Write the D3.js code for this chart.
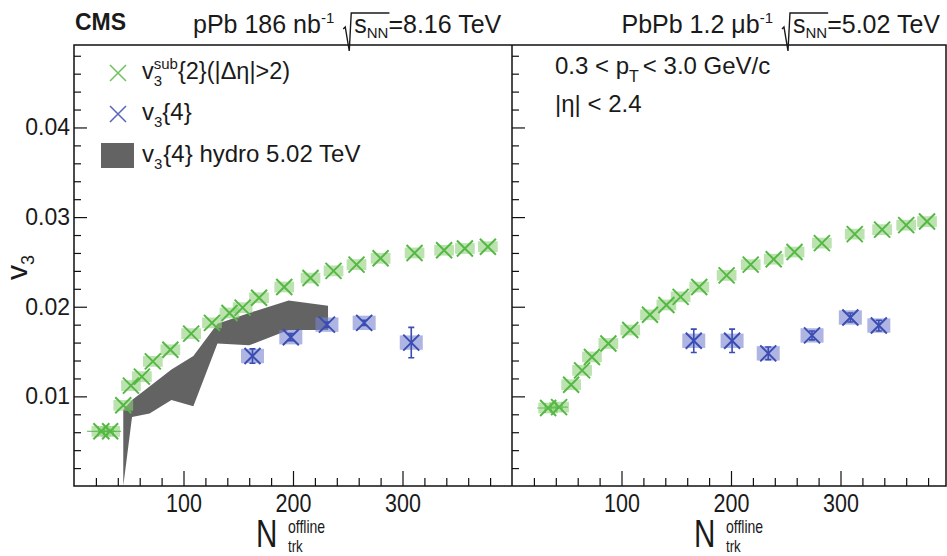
<!DOCTYPE html>
<html lang="en">
<head>
<meta charset="UTF-8">
<title>v3 vs Ntrk</title>
<script src="https://cdn.jsdelivr.net/npm/d3@7"></script>
<style>
    body { margin: 0; background: #fff; }
    text { font-family: "Liberation Sans", Arial, sans-serif; fill: #1a1a1a; }
    .tick line { stroke: #111; stroke-width: 1.2; }
    .tick text { fill: #1a1a1a; }
</style>
</head>
<body>
<svg id="chart" width="947" height="556"></svg>
<script>
    // pPb 8.16 TeV, v3sub{2}
    var pPbN2 = [25, 33, 45, 52, 62, 72, 88, 107, 126, 142, 154, 169, 192, 216, 237, 258, 280, 311, 338, 357, 378];
    var pPbV2 = [0.0061, 0.0061, 0.0090, 0.0112, 0.0122, 0.0139, 0.0152, 0.0170, 0.0182, 0.0193, 0.0199, 0.0210,
                 0.0222, 0.0232, 0.0240, 0.0247, 0.0254, 0.0260, 0.0263, 0.0265, 0.0267];
    var pPbX2 = [13, 10]; // horizontal bars of the first bins
    // pPb v3{4}
    var pPbN4 = [163, 198, 231, 265, 308];
    var pPbV4 = [0.0145, 0.0166, 0.0180, 0.0182, 0.0160];
    var pPbE4 = [0.0008, 0.0004, 0.0003, 0.0003, 0.0017];
    // hydro band (v3{4} hydro 5.02 TeV)
    var hydroN = [45, 53, 69, 89, 109, 131, 160, 196, 232];
    var hydroLo = [0.0, 0.0077, 0.0081, 0.0096, 0.0089, 0.0159, 0.0157, 0.0174, 0.0174];
    var hydroHi = [0.0085, 0.0096, 0.0111, 0.0130, 0.0145, 0.0181, 0.0193, 0.0207, 0.0201];

    // PbPb 5.02 TeV, v3sub{2}
    var pbpbN2 = [33, 43, 54, 64, 73, 88, 108, 126, 141, 154, 171, 196, 218, 239, 258, 283, 313, 338, 360, 379];
    var pbpbV2 = [0.0087, 0.0088, 0.0113, 0.0129, 0.0144, 0.0159, 0.0174, 0.0191, 0.0202, 0.0211, 0.0222,
                  0.0235, 0.0247, 0.0253, 0.0261, 0.0271, 0.0281, 0.0286, 0.0291, 0.0295];
    var pbpbX2 = [10, 8];
    // PbPb v3{4}
    var pbpbN4 = [166, 201, 234, 274, 309, 335];
    var pbpbV4 = [0.0162, 0.0162, 0.0148, 0.0168, 0.0188, 0.0179];
    var pbpbE4 = [0.0013, 0.0013, 0.0007, 0.0005, 0.0005, 0.0006];

    var yTicks = [0.01, 0.02, 0.03, 0.04];
    var xTicks = [100, 200, 300];

    var green = '#55b845', greenBox = '#8fd07a';
    var blue = '#3a4db3', blueBox = '#7a84cf';

    var svg = d3.select('#chart');
    var padL = 74, padMid = 512, padR = 946, padT = 45, padB = 486;

    var xL = d3.scaleLinear().domain([0, 400]).range([padL, padMid]);
    var xR = d3.scaleLinear().domain([0, 400]).range([padMid, padMid + 438]);
    var y = d3.scaleLinear().domain([0, 0.0492]).range([padB, padT]);

    svg.append('clipPath').attr('id', 'clipL').append('rect')
        .attr('x', padL).attr('y', padT).attr('width', padMid - padL).attr('height', padB - padT);
    svg.append('clipPath').attr('id', 'clipR').append('rect')
        .attr('x', padMid).attr('y', padT).attr('width', padR - padMid).attr('height', padB - padT);

    //axes
    function drawAxes(x, x0, showLabels) {
        var minorX = d3.range(20, 400, 20).filter(d => d % 100 != 0 && x(d) < padR);
        var minorY = d3.range(1, 25).map(i => i * 0.002).filter((d, i) => (i + 1) % 5 != 0);
        var majorX = d3.range(100, 400, 100);
        var majorY = d3.range(1, 5).map(i => i * 0.01);

        var gx = svg.append('g').attr('transform', 'translate(0,' + padB + ')');
        gx.call(d3.axisBottom(x).tickValues(minorX).tickSize(-8).tickFormat(''));
        var gx2 = svg.append('g').attr('transform', 'translate(0,' + padB + ')');
        gx2.call(d3.axisBottom(x).tickValues(majorX).tickSize(-15)
            .tickFormat(d => xTicks.indexOf(d) >= 0 ? d : ''));
        gx2.selectAll('.tick text').attr('y', 8).attr('dy', '0.71em')
            .style('font-size', '25px').attr('transform', 'scale(0.86,1)');

        var gy = svg.append('g').attr('transform', 'translate(' + x0 + ',0)');
        gy.call(d3.axisLeft(y).tickValues(minorY).tickSize(-7).tickFormat(''));
        var gy2 = svg.append('g').attr('transform', 'translate(' + x0 + ',0)');
        gy2.call(d3.axisLeft(y).tickValues(majorY).tickSize(-13)
            .tickFormat(d => showLabels && yTicks.some(t => Math.abs(t - d) < 1e-9) ? d3.format('.2f')(d) : ''));
        gy2.selectAll('.tick text').attr('x', -4).style('font-size', '23px');
        svg.selectAll('.domain').remove();
    }
    drawAxes(xL, padL, true);
    drawAxes(xR, padMid, false);

    // hydro band
    var band = hydroN.map((n, i) => ({ n: n, lo: hydroLo[i], hi: hydroHi[i] }));
    svg.append('path')
        .attr('clip-path', 'url(#clipL)')
        .attr('fill', '#636363')
        .attr('d', d3.area().x(d => xL(d.n)).y0(d => y(d.lo)).y1(d => y(d.hi))(band));

    function cross(g, s, color, w) {
        g.append('path')
            .attr('d', 'M' + (-s) + ',' + (-s) + 'L' + s + ',' + s + 'M' + (-s) + ',' + s + 'L' + s + ',' + (-s))
            .attr('stroke', color).attr('stroke-width', w).attr('fill', 'none');
    }

    function series(x, ns, vs, es, xs, clip, col, boxCol, bw, bh) {
        var data = ns.map((n, i) => ({ n: n, v: vs[i], e: es ? es[i] : 0, xe: xs && xs[i] ? xs[i] : 0 }));
        var g = svg.append('g').attr('clip-path', clip);
        g.selectAll('rect').data(data).enter().append('rect')
            .attr('x', d => x(d.n - bw)).attr('width', d => x(d.n + bw) - x(d.n - bw))
            .attr('y', d => y(d.v + bh)).attr('height', d => y(d.v - bh) - y(d.v + bh))
            .attr('fill', boxCol).attr('opacity', 0.6);
        var pts = g.selectAll('g.pt').data(data).enter().append('g')
            .attr('class', 'pt')
            .attr('transform', d => 'translate(' + x(d.n) + ',' + y(d.v) + ')');
        pts.each(function (d) {
            var p = d3.select(this);
            cross(p, 8, col, 2);
            if (d.e > 0) {
                var h = y(0) - y(d.e);
                p.append('path').attr('d', 'M0,' + (-h) + 'V' + h + 'M-3,' + (-h) + 'H3M-3,' + h + 'H3')
                    .attr('stroke', col).attr('stroke-width', 1.6).attr('fill', 'none');
            }
            if (d.xe > 0) {
                var w = x(d.xe) - x(0);
                p.append('path').attr('d', 'M' + (-w) + ',0H' + w + 'M-3,-5V5M3,-5V5')
                    .attr('stroke', col).attr('stroke-width', 1.2).attr('fill', 'none').attr('opacity', 0.8);
            }
        });
    }

    series(xL, pPbN2, pPbV2, null, pPbX2, 'url(#clipL)', green, greenBox, 9, 0.0006);
    series(xL, pPbN4, pPbV4, pPbE4, null, 'url(#clipL)', blue, blueBox, 10.5, 0.0008);
    series(xR, pbpbN2, pbpbV2, null, pbpbX2, 'url(#clipR)', green, greenBox, 9, 0.0006);
    series(xR, pbpbN4, pbpbV4, pbpbE4, null, 'url(#clipR)', blue, blueBox, 10.5, 0.0008);

    // frame
    svg.append('rect').attr('x', padL).attr('y', padT).attr('width', padR - padL).attr('height', padB - padT)
        .attr('fill', 'none').attr('stroke', '#111').attr('stroke-width', 1.5);
    svg.append('line').attr('x1', padMid).attr('x2', padMid).attr('y1', padT).attr('y2', padB)
        .attr('stroke', '#111').attr('stroke-width', 1.5);

    // text with sub/superscripts laid out piece by piece
    function rich(g, x, yb, parts, size) {
        var cx = x, lastX = x;
        parts.forEach(function (p) {
            var px = p.stack ? lastX : cx + (p.gap || 0);
            var t = g.append('text').attr('x', px).attr('y', yb + (p.dy || 0))
                .style('font-size', (p.s || size) + 'px').text(p.t);
            var w = t.node().getComputedTextLength();
            if (p.stack) cx = Math.max(cx, px + w);
            else { lastX = px; cx = px + w; }
            p.x0 = px; p.x1 = px + w;
        });
        return cx;
    }

    svg.append('text').attr('x', 75).attr('y', 30).style('font-size', '23px').style('font-weight', 'bold').text('CMS');

    // header with a drawn root sign over s_NN
    function header(x, yb, pre, post, alignRight) {
        var g = svg.append('g');
        var parts = [{ t: pre }, { t: '-1', s: 15, dy: -10 }, { t: 's', gap: 20 }, { t: 'NN', s: 15, dy: 5 }, { t: post }];
        var end = rich(g, 0, yb, parts, 25);
        var sx = parts[2].x0;
        g.append('path')
            .attr('d', 'M' + (sx - 11) + ',' + (yb - 4) + 'L' + (sx - 9) + ',' + (yb - 6) + 'L' + (sx - 5) + ',' + (yb + 18)
                + 'L' + (sx - 3) + ',' + (yb - 20) + 'H' + (parts[3].x1 + 1))
            .attr('fill', 'none').attr('stroke', '#1a1a1a').attr('stroke-width', 1.4);
        g.attr('transform', 'translate(' + (alignRight ? x - end : x) + ',0)');
    }
    header(193, 33, 'pPb 186 nb', '=8.16 TeV', false);
    header(940, 33, 'PbPb 1.2 \u03bcb', '=5.02 TeV', true);

    // legend
    var lg = svg.append('g');
    var c1 = lg.append('g').attr('transform', 'translate(118,73)'); cross(c1, 8, '#6cc35a', 1.5);
    var c2 = lg.append('g').attr('transform', 'translate(118,114)'); cross(c2, 8, '#5563bd', 1.5);
    lg.append('rect').attr('x', 101).attr('y', 143).attr('width', 33).attr('height', 25).attr('fill', '#636363');
    rich(lg, 142, 79, [{ t: 'v' }, { t: 'sub', s: 15, dy: -10 }, { t: '3', s: 15, dy: 7, stack: true }, { t: '{2}(|\u0394\u03b7|>2)' }], 23.5);
    rich(lg, 142, 120, [{ t: 'v' }, { t: '3', s: 15, dy: 7 }, { t: '{4}' }], 24);
    rich(lg, 142, 162, [{ t: 'v' }, { t: '3', s: 15, dy: 7 }, { t: '{4} hydro 5.02 TeV', gap: 1 }], 24);

    rich(svg, 555, 74, [{ t: '0.3 < p' }, { t: 'T', s: 16, dy: 8 }, { t: ' < 3.0 GeV/c', gap: 4 }], 24);
    rich(svg, 555, 112, [{ t: '|\u03b7| < 2.4' }], 24);

    // axis titles
    var yt = svg.append('g').attr('transform', 'translate(27,280) rotate(-90)');
    rich(yt, 0, 0, [{ t: 'v' }, { t: '3', s: 18, dy: 7 }], 30);

    [xL, xR].forEach(function (x) {
        var x2 = x(200);
        svg.append('text').attr('transform', 'translate(' + (x2 - 37) + ',547) scale(0.78,1)')
            .style('font-size', '38px').text('N');
        svg.append('text').attr('transform', 'translate(' + (x2 - 5) + ',533) scale(0.78,1)')
            .style('font-size', '18px').text('offline');
        svg.append('text').attr('transform', 'translate(' + (x2 - 5) + ',552) scale(0.78,1)')
            .style('font-size', '17px').text('trk');
    });
</script>
</body>
</html>
